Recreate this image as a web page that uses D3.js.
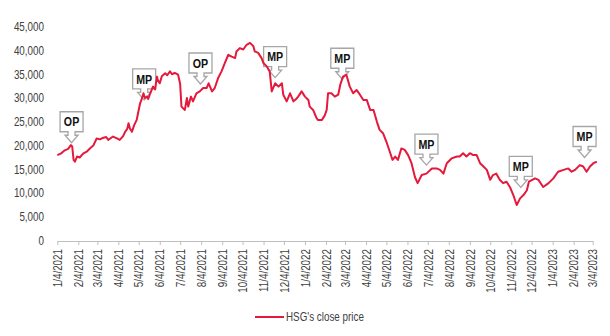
<!DOCTYPE html>
<html>
<head>
<meta charset="utf-8">
<style>
body { margin: 0; background: #fff; }
text { font-family: "Liberation Sans Narrow", "Liberation Sans", Arial, sans-serif; fill: #404040; }
.axis path, .axis line { stroke: #bfbfbf; }
.note path { fill: #fff; stroke: #a6a6a6; stroke-width: 1.3px; }
.note text { fill: #111; font-weight: bold; font-size: 13px; }
</style>
</head>
<body>
<script src="https://cdn.jsdelivr.net/npm/d3@7"></script>
<script>

// close price, sampled every few sessions
var priceDates = [
  "2021-01-04","2021-01-09","2021-01-15","2021-01-20","2021-01-24","2021-01-26","2021-01-28","2021-01-30",
  "2021-02-02","2021-02-06","2021-02-11","2021-02-17","2021-02-21","2021-02-26","2021-03-03","2021-03-08",
  "2021-03-12","2021-03-17","2021-03-20","2021-03-24","2021-03-27","2021-04-02","2021-04-06","2021-04-11",
  "2021-04-14","2021-04-17","2021-04-19","2021-04-21","2021-04-24","2021-04-27","2021-05-01","2021-05-03",
  "2021-05-06","2021-05-08","2021-05-11","2021-05-13","2021-05-16","2021-05-18","2021-05-21","2021-05-25",
  "2021-05-28","2021-05-31","2021-06-01","2021-06-04","2021-06-07","2021-06-12","2021-06-15","2021-06-19",
  "2021-06-22","2021-06-26","2021-07-01","2021-07-04","2021-07-06","2021-07-11","2021-07-14","2021-07-16",
  "2021-07-20","2021-07-23","2021-07-28","2021-08-02","2021-08-07","2021-08-12","2021-08-15","2021-08-20",
  "2021-08-24","2021-08-29","2021-09-03","2021-09-08","2021-09-13","2021-09-18","2021-09-23","2021-09-25",
  "2021-09-30","2021-10-05","2021-10-10","2021-10-15","2021-10-20","2021-10-22","2021-10-27","2021-11-01",
  "2021-11-04","2021-11-09","2021-11-13","2021-11-16","2021-11-21","2021-11-26","2021-12-01","2021-12-03",
  "2021-12-08","2021-12-13","2021-12-18","2021-12-22","2021-12-25","2021-12-30","2022-01-04","2022-01-09",
  "2022-01-11","2022-01-16","2022-01-21","2022-01-23","2022-01-29","2022-02-02","2022-02-05","2022-02-07",
  "2022-02-12","2022-02-17","2022-02-22","2022-02-25","2022-03-01","2022-03-06","2022-03-11","2022-03-16",
  "2022-03-21","2022-03-26","2022-03-31","2022-04-05","2022-04-10","2022-04-15","2022-04-20","2022-04-24",
  "2022-04-29","2022-05-04","2022-05-09","2022-05-13","2022-05-17","2022-05-21","2022-05-26","2022-05-31",
  "2022-06-05","2022-06-10","2022-06-15","2022-06-19","2022-06-25","2022-07-02","2022-07-10","2022-07-17",
  "2022-07-22","2022-07-27","2022-08-01","2022-08-08","2022-08-16","2022-08-20","2022-08-25","2022-08-30",
  "2022-09-04","2022-09-09","2022-09-14","2022-09-19","2022-09-24","2022-09-29","2022-10-04","2022-10-08",
  "2022-10-13","2022-10-18","2022-10-23","2022-10-28","2022-11-02","2022-11-07","2022-11-12","2022-11-17",
  "2022-11-22","2022-11-27","2022-11-30","2022-12-05","2022-12-09","2022-12-14","2022-12-21","2022-12-29",
  "2023-01-05","2023-01-12","2023-01-20","2023-01-27","2023-02-01","2023-02-06","2023-02-13","2023-02-18",
  "2023-02-23","2023-02-28","2023-03-05","2023-03-10"
];
var priceValues = [
  18000,18300,19000,19300,20100,19800,17000,16600,
  17700,17500,18300,18800,19400,20000,21500,21300,
  21600,21800,21200,21600,21900,21500,21200,22000,
  22900,23500,24700,23600,22900,24200,25400,26800,
  28900,29600,31000,30000,30300,29800,31000,32400,
  31800,34500,33800,33100,34600,35200,34800,35600,
  35000,35300,34900,33000,28200,27500,30000,28200,
  30300,29300,31000,31400,32100,32100,33100,31400,
  32100,34200,35600,37400,39100,38700,38400,39800,
  40500,40200,41200,41600,40900,39800,39500,38400,
  37300,36600,35600,31400,33100,32400,33100,30700,
  29300,31000,29300,29800,30300,31400,30300,29600,
  28200,27500,25800,25400,25400,26300,27500,31000,
  31000,30300,30700,32800,34500,34900,32400,31000,
  31700,30700,29600,29600,27500,27500,25000,23300,
  22600,20800,18700,17000,17700,17000,19400,19100,
  18000,16300,13400,12100,13800,14100,15200,15200,
  14900,14100,16300,17300,17700,17700,18400,17700,
  18400,18000,18000,16300,15600,14900,12800,13800,
  14100,12800,12100,12400,11300,9600,7500,8900,
  9600,10600,12400,12800,13100,12800,11300,12100,
  13100,14500,14900,15200,14500,14900,15900,15600,
  14500,15600,16300,16600
];

var tickLabels = [
  "1/4/2021","2/4/2021","3/4/2021","4/4/2021","5/4/2021","6/4/2021","7/4/2021","8/4/2021","9/4/2021",
  "10/4/2021","11/4/2021","12/4/2021","1/4/2022","2/4/2022","3/4/2022","4/4/2022","5/4/2022","6/4/2022",
  "7/4/2022","8/4/2022","9/4/2022","10/4/2022","11/4/2022","12/4/2022","1/4/2023","2/4/2023","3/4/2023"
];
var yTicks = [0, 5000, 10000, 15000, 20000, 25000, 30000, 35000, 40000, 45000];

// OP / MP call-outs: where each arrow points
var noteLabels = ["OP", "MP", "OP", "MP", "MP", "MP", "MP", "MP"];
var noteDates = ["2021-01-25","2021-05-12","2021-08-03","2021-11-21","2022-02-28","2022-07-02","2022-11-18","2023-02-20"];
var noteValues = [20600, 29600, 32950, 34300, 33950, 15900, 11200, 17500];

var width = 610,
    height = 336;

// squeeze text horizontally to get a narrow face
var narrow = 0.82;

var parseDay = d3.timeParse("%Y-%m-%d"),
    parseTick = d3.timeParse("%-m/%-d/%Y");

var tickDates = tickLabels.map(parseTick);
var series = priceDates.map(function(d, i) {
  return {date: parseDay(d), value: priceValues[i]};
});

var svg = d3.select("body").append("svg")
    .attr("width", width)
    .attr("height", height);

var x = d3.scaleTime()
    .domain([tickDates[0], tickDates[tickDates.length - 1]])
    .range([57.3, 592.7]);

var y = d3.scaleLinear()
    .domain([0, 45000])
    .range([240.7, 26.7]);

// x axis with rotated date labels
var xAxis = svg.append("g")
    .attr("class", "axis")
    .attr("transform", "translate(0,241)")
    .call(d3.axisBottom(x)
        .tickValues(tickDates)
        .tickSize(4)
        .tickSizeOuter(0)
        .tickFormat(d3.timeFormat("%-m/%-d/%Y")));

xAxis.selectAll("text")
    .attr("transform", "rotate(-90) scale(" + narrow + ",1)")
    .attr("x", -8 / narrow)
    .attr("y", 0)
    .attr("dy", "0.35em")
    .style("text-anchor", "end")
    .style("font-size", "12px")
    .style("fill", "#404040");

// y axis: labels only
var yAxis = svg.append("g")
    .attr("class", "axis")
    .attr("transform", "translate(44,0)")
    .call(d3.axisLeft(y)
        .tickValues(yTicks)
        .tickSize(0)
        .tickPadding(0)
        .tickFormat(d3.format(",")));

yAxis.select(".domain").remove();
yAxis.selectAll("text")
    .attr("transform", "scale(" + narrow + ",1)")
    .style("font-size", "12px")
    .style("fill", "#404040");

// call-out boxes with a down arrow, tip at (0,0)
var calloutPath = "M0,0L-6.5,-7.5L-3.5,-7.5L-3.5,-11L-11.5,-11L-11.5,-31L11.5,-31L11.5,-11" +
                  "L3.5,-11L3.5,-7.5L6.5,-7.5Z";

var notes = svg.append("g").selectAll("g")
    .data(noteLabels)
    .enter().append("g")
    .attr("class", "note")
    .attr("transform", function(d, i) {
      return "translate(" + x(parseDay(noteDates[i])) + "," + y(noteValues[i]) + ")";
    });

notes.append("path").attr("d", calloutPath);
notes.append("text")
    .attr("y", -21)
    .attr("dy", "0.36em")
    .attr("text-anchor", "middle")
    .attr("transform", "scale(" + narrow + ",1)")
    .text(function(d) { return d; });

// price line
var line = d3.line()
    .x(function(d) { return x(d.date); })
    .y(function(d) { return y(d.value); });

svg.append("path")
    .datum(series)
    .attr("d", line)
    .style("fill", "none")
    .style("stroke", "#e4193b")
    .style("stroke-width", 2)
    .style("stroke-linejoin", "round");

// legend
var legend = svg.append("g").attr("transform", "translate(255,317)");
legend.append("line")
    .attr("x1", 0).attr("x2", 29)
    .style("stroke", "#e4193b")
    .style("stroke-width", 2);
legend.append("text")
    .attr("x", 31 / narrow)
    .attr("dy", "0.35em")
    .attr("transform", "scale(" + narrow + ",1)")
    .style("font-size", "12px")
    .text("HSG's close price");

</script>
</body>
</html>
